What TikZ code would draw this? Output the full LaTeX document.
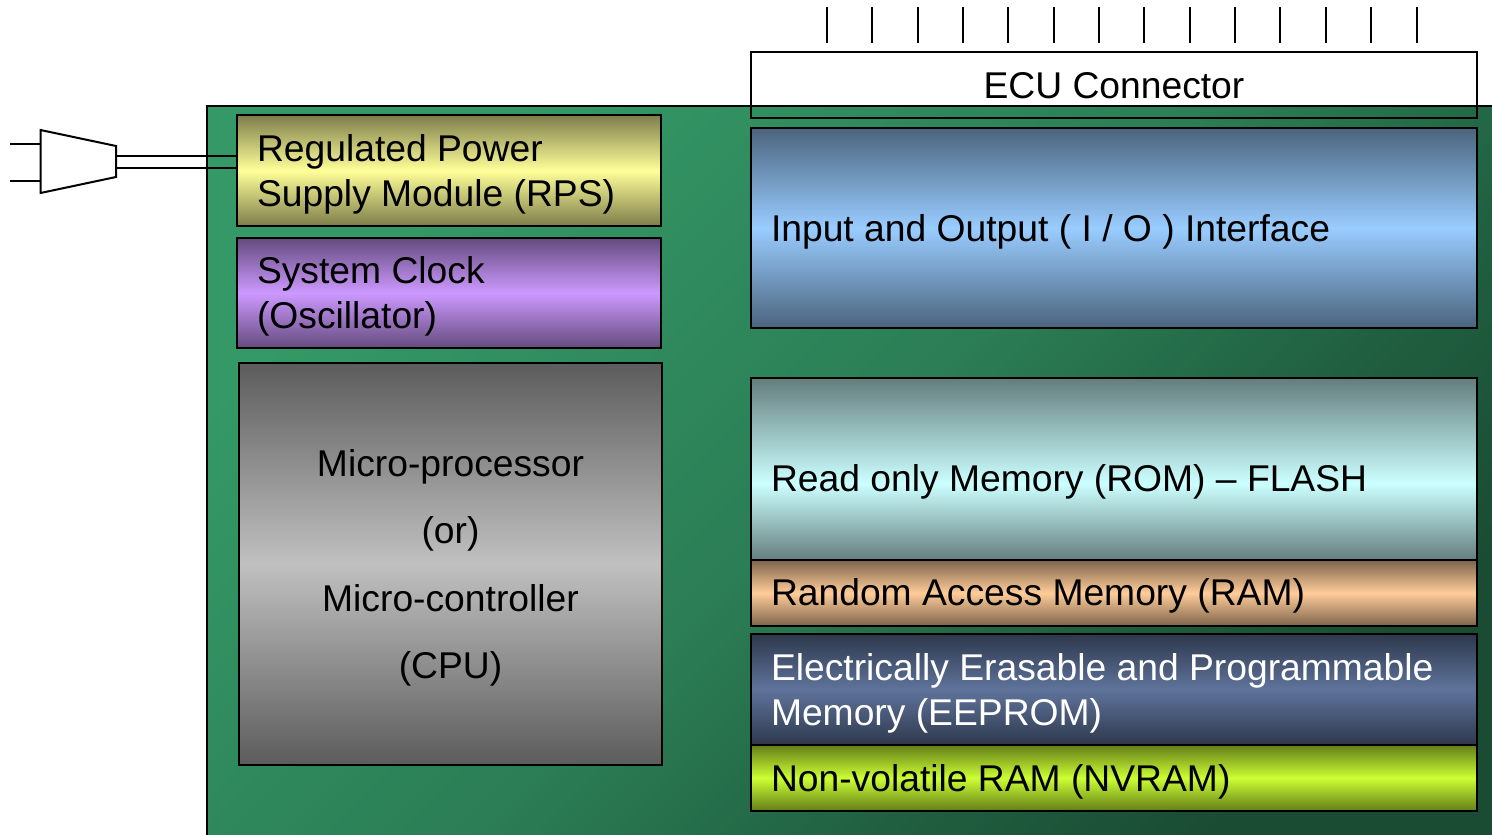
\documentclass[tikz,border=0pt]{standalone}
\usepackage{fontspec}
\setmainfont{Liberation Sans}
\definecolor{panelA}{RGB}{52,153,102}
\definecolor{panelM}{RGB}{43,125,85}
\definecolor{panelN}{RGB}{32,95,64}
\definecolor{panelB}{RGB}{26,76,51}
\pgfdeclareverticalshading{panelshade}{100bp}{color(0bp)=(panelB);color(24.5bp)=(panelB);color(35.9bp)=(panelN);color(50bp)=(panelM);color(74.75bp)=(panelA);color(100bp)=(panelA)}
\definecolor{cRPSm}{RGB}{255,255,153}\definecolor{cRPSe}{RGB}{125,125,75}
\definecolor{cCLKm}{RGB}{204,153,255}\definecolor{cCLKe}{RGB}{100,75,125}
\definecolor{cIOm}{RGB}{153,204,255}\definecolor{cIOe}{RGB}{75,100,125}
\definecolor{cROMm}{RGB}{204,255,255}\definecolor{cROMe}{RGB}{100,125,125}
\definecolor{cRAMm}{RGB}{255,204,153}\definecolor{cRAMe}{RGB}{125,100,75}
\definecolor{cEEPm}{RGB}{95,115,155}\definecolor{cEEPe}{RGB}{46,56,76}
\definecolor{cNVm}{RGB}{204,255,51}\definecolor{cNVe}{RGB}{100,125,25}
\definecolor{cCPUm}{RGB}{192,192,192}\definecolor{cCPUe}{RGB}{92,92,92}
\pgfdeclareverticalshading{romshade}{100bp}{color(0bp)=(cROMe);color(25bp)=(cROMe);color(46bp)=(cROMm);color(75bp)=(cROMe);color(100bp)=(cROMe)}
\tikzset{
  x=1pt,y=-1pt,
  ink/.style={draw=black,line width=2pt},
  module/.style={ink,rectangle,anchor=north west,inner xsep=20pt,inner ysep=0pt,outer sep=0pt,
    align=flush left,font=\fontsize{37.25}{45}\selectfont,
    execute at end node={\rule[-12pt]{0pt}{12pt}}},
  shadeA/.style n args={2}{top color=#2,bottom color=#2,middle color=#1},
  drop/.style={execute at begin node={\rule{0pt}{#1}}},
}
\begin{document}
\begin{tikzpicture}
\path[use as bounding box,clip] (0,0) rectangle (1492,835);
% board
\path[shading=panelshade,shading angle=45] (207,106) rectangle (1492,835);
\draw[ink] (1492,106) -- (207,106) -- (207,835);

% modules
\node[module,drop=38pt,shadeA={cRPSm}{cRPSe},minimum width=424pt,minimum height=111pt,text width=384pt] (rps) at (237,115) {Regulated Power\\Supply Module (RPS)};
\node[module,drop=37pt,shadeA={cCLKm}{cCLKe},minimum width=424pt,minimum height=110pt,text width=384pt] (clk) at (237,238) {System Clock\\(Oscillator)};
\node[module,drop=38.5pt,shadeA={cCPUm}{cCPUe},minimum width=423pt,minimum height=402pt,text width=383pt,align=flush center,font=\fontsize{37.25}{67.5}\selectfont] (cpu) at (239,363) {Micro-processor\\(or)\\Micro-controller\\(CPU)};
\node[module,drop=38pt,shadeA={cIOm}{cIOe},minimum width=726pt,minimum height=200pt,text width=686pt] (io) at (751,128) {Input and Output ( I / O ) Interface};
\node[module,drop=56pt,shading=romshade,minimum width=726pt,minimum height=182pt,text width=686pt] (rom) at (751,378) {Read only Memory (ROM) – FLASH};
\node[module,drop=36pt,shadeA={cRAMm}{cRAMe},minimum width=726pt,minimum height=66pt,text width=686pt] (ram) at (751,560) {Random Access Memory (RAM)};
\node[module,drop=38pt,shadeA={cEEPm}{cEEPe},minimum width=726pt,minimum height=111pt,text width=686pt,text=white] (eep) at (751,634) {Electrically Erasable and Programmable\\Memory (EEPROM)};
\node[module,drop=38pt,shadeA={cNVm}{cNVe},minimum width=726pt,minimum height=66pt,text width=686pt] (nv) at (751,745) {Non-volatile RAM (NVRAM)};
\node[module,drop=38pt,minimum width=726pt,minimum height=66pt,text width=686pt,align=flush center] (ecu) at (751,52) {ECU Connector};

% plug
\coordinate (p1) at (40.5,130);
\coordinate (p2) at (116,146);
\coordinate (p3) at (116,177);
\coordinate (p4) at (40.5,193);
\draw[ink,line join=miter,fill=white] (p1) -- (p2) -- (p3) -- (p4) -- cycle;
\coordinate (a1) at (10,144); \coordinate (a2) at (40.5,144);
\coordinate (b1) at (10,180.5); \coordinate (b2) at (40.5,180.5);
\draw[ink] (a1) -- (a2);
\draw[ink] (b1) -- (b2);
\coordinate (w1) at (116,156); \coordinate (w1e) at (rps.west |- w1);
\coordinate (w2) at (116,168); \coordinate (w2e) at (rps.west |- w2);
\draw[ink] (w1) -- (w1e);
\draw[ink] (w2) -- (w2e);

% connector pins
\foreach \i/\px in {1/827,2/872,3/918,4/963,5/1008,6/1054,7/1099,8/1144,9/1190,10/1235,11/1280,12/1326,13/1371,14/1417}{
  \coordinate (pt\i) at (\px,7);
  \coordinate (pb\i) at (\px,43);
  \draw[ink] (pt\i) -- (pb\i);
}
\end{tikzpicture}
\end{document}
